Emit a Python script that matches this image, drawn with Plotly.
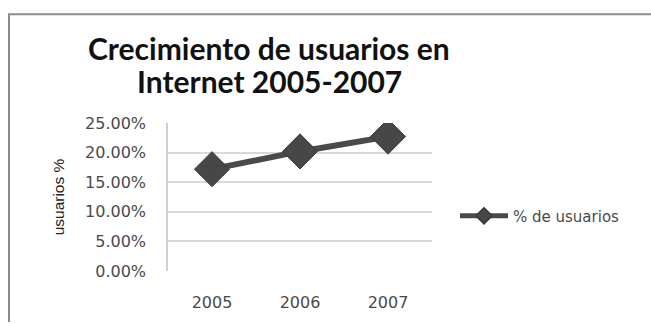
import plotly.graph_objects as go

# Internet user growth, 2005-2007
years = ["2005", "2006", "2007"]
usuarios = [0.172, 0.202, 0.227]
series_name = "% de usuarios"
title_lines = ["Crecimiento de usuarios en", "Internet 2005-2007"]

W, H = 651, 324
L, R, T, B = 168, 219, 123, 50
pw, ph = W - L - R, H - T - B


def px_x(x):
    return (x - L) / pw


def px_y(y):
    return (H - B - y) / ph


fig = go.Figure()
fig.add_trace(go.Scatter(
    x=years, y=usuarios, name=series_name, mode="lines+markers",
    line=dict(color="#4a4a4a", width=6),
    marker=dict(symbol="diamond", size=27, color="#474747",
                line=dict(color="#3a3a3a", width=1)),
    showlegend=True,
))

title_font = "Lato, 'Open Sans', sans-serif"
tick_font = "'DejaVu Sans', sans-serif"

fig.update_layout(
    width=W, height=H,
    margin=dict(l=L, r=R, t=T, b=B),
    paper_bgcolor="white", plot_bgcolor="white",
    showlegend=True,
    legend=dict(x=px_x(455), y=px_y(218), xanchor="left", yanchor="middle",
                font=dict(family=tick_font, size=15, color="#4a4a4a"),
                itemwidth=48, itemsizing="constant",
                bgcolor="rgba(0,0,0,0)"),
    xaxis=dict(type="category", range=[-0.5, 2.5], showgrid=False,
               showline=False, ticks="", ticklabelstandoff=20,
               tickfont=dict(family=tick_font, size=16, color="#4a4a4a")),
    yaxis=dict(range=[0, 0.25], dtick=0.05, tickformat=".2%",
               showgrid=True, gridcolor="#d9d9d9", gridwidth=1.5,
               showline=True, linecolor="#d0d0d0", linewidth=1.5,
               zeroline=False, ticks="", ticklabelstandoff=17,
               tickfont=dict(family=tick_font, size=16, color="#4a4a4a"),
               title=dict(text="usuarios %", standoff=17,
                          font=dict(family="'Liberation Sans', sans-serif",
                                    size=15.5, color="#222222"))),
)

# Chart title, two centred lines
for i, line in enumerate(title_lines):
    fig.add_annotation(
        text=f"<b>{line}</b>", xref="paper", yref="paper",
        x=px_x(269), y=px_y(46 + 34 * i), xanchor="center", yanchor="middle",
        showarrow=False, font=dict(family=title_font, size=30, color="#111111"),
    )

# Chart frame (left and top edges)
fig.add_shape(type="path", xref="paper", yref="paper",
              path=f"M {px_x(9)} {px_y(H + 2)} L {px_x(9)} {px_y(12)} L {px_x(W + 2)} {px_y(12)}",
              line=dict(color="#8c8c8c", width=2))

fig.write_html("out.html")
